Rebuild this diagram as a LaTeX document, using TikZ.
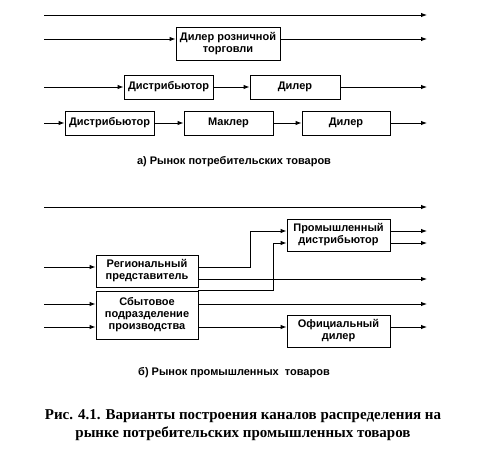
\documentclass[tikz,border=0pt]{standalone}
\usepackage{fontspec}
\setmainfont{Liberation Serif}
\setsansfont{Liberation Sans}
\usetikzlibrary{positioning, arrows.meta}

\begin{document}
\begin{tikzpicture}[x=1pt, y=-1pt, >={Latex[length=6pt,width=4.5pt]}, line width=0.9pt,
   box/.style={rectangle, draw, inner sep=1pt, align=center,
     font=\sffamily\bfseries\fontsize{11}{12}\selectfont},
   subcap/.style={font=\sffamily\bfseries\fontsize{11}{13}\selectfont}]
  \useasboundingbox (0,0) rectangle (486,462);
  % a) consumer market
  \node[box, minimum width=104pt, minimum height=33pt] (drt) at (228,43.5) {Дилер розничной\\торговли};
  \node[box, minimum width=89pt, minimum height=24pt] (dA)  at (168.5,87) {Дистрибьютор};
  \node[box, minimum width=90pt, minimum height=24pt] (dlA) at (295,87)   {Дилер};
  \node[box, minimum width=89pt, minimum height=24pt] (dB)  at (109.5,123) {Дистрибьютор};
  \node[box, minimum width=89pt, minimum height=24pt] (mk)  at (228.5,123) {Маклер};
  \node[box, minimum width=88pt, minimum height=24pt] (dlB) at (346,123)   {Дилер};
  \coordinate (s1) at (44,15);  \coordinate (e1) at (427,15);
  \coordinate (s2) at (44,39);  \coordinate (e2) at (427,39);
  \coordinate (s3) at (44,87);  \coordinate (e3) at (427,87);
  \coordinate (s4) at (44,123); \coordinate (e4) at (427,123);
  \draw[->] (s1) -- (e1);
  \draw[->] (s2) -- (s2 -| drt.west);
  \draw[->] (s2 -| drt.east) -- (e2);
  \draw[->] (s3) -- (dA);
  \draw[->] (dA) -- (dlA);
  \draw[->] (dlA) -- (e3);
  \draw[->] (s4) -- (dB);
  \draw[->] (dB) -- (mk);
  \draw[->] (mk) -- (dlB);
  \draw[->] (dlB) -- (e4);
  \node[subcap] (capA) at (234,162) {а) Рынок потребительских товаров};
  % b) industrial market
  \node[box, minimum width=103pt, minimum height=32pt] (pd) at (338.5,235) {Промышленный\\дистрибьютор};
  \node[box, minimum width=102pt, minimum height=32pt] (rp) at (147,271)   {Региональный\\представитель};
  \node[box, minimum width=102pt, minimum height=48pt] (sp) at (147,315)   {Сбытовое\\подразделение\\производства};
  \node[box, minimum width=103pt, minimum height=32pt] (od) at (338.5,331) {Официальный\\дилер};
  \coordinate (s5) at (44,207);  \coordinate (e5) at (427,207);
  \coordinate (e6) at (427,231); \coordinate (e7) at (427,243);
  \coordinate (s8) at (44,267);  \coordinate (e8) at (427,279);
  \coordinate (s9) at (44,304);  \coordinate (e9) at (427,304);
  \coordinate (s10) at (44,327); \coordinate (e10) at (427,327);
  \draw[->] (s5) -- (e5);
  \draw[->] (pd.east |- e6) -- (e6);
  \draw[->] (pd.east |- e7) -- (e7);
  \draw[->] (s8) -- (s8 -| rp.west);
  \draw[->] (s8 -| rp.east) -- ++(52,0) |- (pd.west |- e6);
  \draw[->] (rp.east |- e8) -- (e8);
  \draw[->] (sp.north east) -- ++(75,0) |- (pd.west |- e7);
  \draw[->] (s9) -- (s9 -| sp.west);
  \draw[->] (sp.east |- s9) -- (e9);
  \draw[->] (s10) -- (s10 -| sp.west);
  \draw[->] (sp.east |- s10) -- (s10 -| od.west);
  \draw[->] (od.east |- s10) -- (e10);
  \node[subcap] (capB) at (234,373) {б) Рынок промышленных\ \ товаров};
  \node[font=\bfseries\fontsize{15}{18}\selectfont, align=center] (fig) at (243,425)
    {Рис. 4.1. Варианты построения каналов распределения на\\рынке потребительских промышленных товаров};
\end{tikzpicture}
\end{document}
